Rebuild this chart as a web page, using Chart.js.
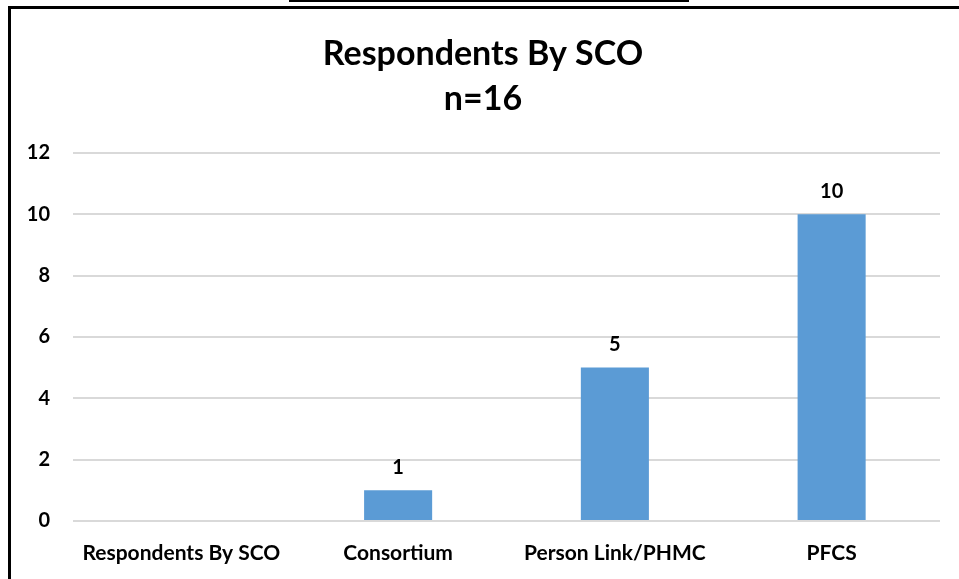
<!DOCTYPE html>
<html>
<head>
<meta charset="utf-8">
<script src="https://cdn.jsdelivr.net/npm/chart.js@4"></script>
<style>
  html, body { margin: 0; padding: 0; background: #fff; }
  body { width: 959px; height: 579px; position: relative; overflow: hidden; }
  #strip { position: absolute; left: 289px; top: 0; width: 400px; height: 2px; background: #000; }
  #frame { position: absolute; left: 8px; top: 6px; width: 951px; height: 573px;
           border-left: 3px solid #000; border-top: 3px solid #000; box-sizing: border-box; }
  #wrap { position: absolute; left: 11px; top: 9px; width: 948px; height: 570px; }
</style>
</head>
<body>
<div id="strip"></div>
<div id="frame"></div>
<div id="wrap"><canvas id="scoChart"></canvas></div>
<script>
const categories = ["Respondents By SCO", "Consortium", "Person Link/PHMC", "PFCS"];
const respondents = [null, 1, 5, 10];
const yTicks = [0, 2, 4, 6, 8, 10, 12];

const fontFamily = "Lato, 'Open Sans', sans-serif";

// draws the value above each bar
const barValues = {
  id: "barValues",
  afterDatasetsDraw(chart) {
    const ctx = chart.ctx;
    const meta = chart.getDatasetMeta(0);
    ctx.save();
    ctx.font = "bold 20px " + fontFamily;
    ctx.fillStyle = "#000";
    ctx.textAlign = "center";
    ctx.textBaseline = "middle";
    meta.data.forEach((bar, i) => {
      const v = respondents[i];
      if (v === null) return;
      ctx.fillText(String(v), bar.x, bar.y - 23);
    });
    ctx.restore();
  }
};

const ctx = document.getElementById("scoChart");

const scoChart = new Chart(ctx, {
  type: "bar",
  data: {
    labels: categories,
    datasets: [
      {
        label: "Respondents",
        data: respondents,
        backgroundColor: "#5b9bd5",
        borderWidth: 0,
        categoryPercentage: 1,
        barPercentage: 0.314
      }
    ]
  },
  options: {
    responsive: true,
    maintainAspectRatio: false,
    animation: false,
    layout: {
      padding: { left: 15, right: 19, top: 0, bottom: 0 }
    },
    plugins: {
      legend: { display: false },
      tooltip: { enabled: false },
      title: {
        display: true,
        text: ["Respondents By SCO", "n=16"],
        color: "#000",
        font: { family: fontFamily, size: 34, weight: "bold", lineHeight: 1.32 },
        padding: { top: 23, bottom: 31 }
      }
    },
    scales: {
      x: {
        grid: { display: false, drawTicks: false },
        border: { display: false },
        afterFit(axis) {
          axis.height = 58;
        },
        ticks: {
          color: "#000",
          padding: 20,
          font: { family: fontFamily, size: 21, weight: "bold" }
        }
      },
      y: {
        min: 0,
        max: 12,
        afterBuildTicks(axis) {
          axis.ticks = yTicks.map(v => ({ value: v }));
        },
        afterFit(axis) {
          axis.width = 47;
        },
        grid: { color: "#d9d9d9", lineWidth: 2, drawTicks: false },
        border: { display: false },
        ticks: {
          color: "#000",
          padding: 23,
          font: { family: fontFamily, size: 20, weight: "bold" }
        }
      }
    }
  },
  plugins: [barValues]
});
</script>
</body>
</html>
